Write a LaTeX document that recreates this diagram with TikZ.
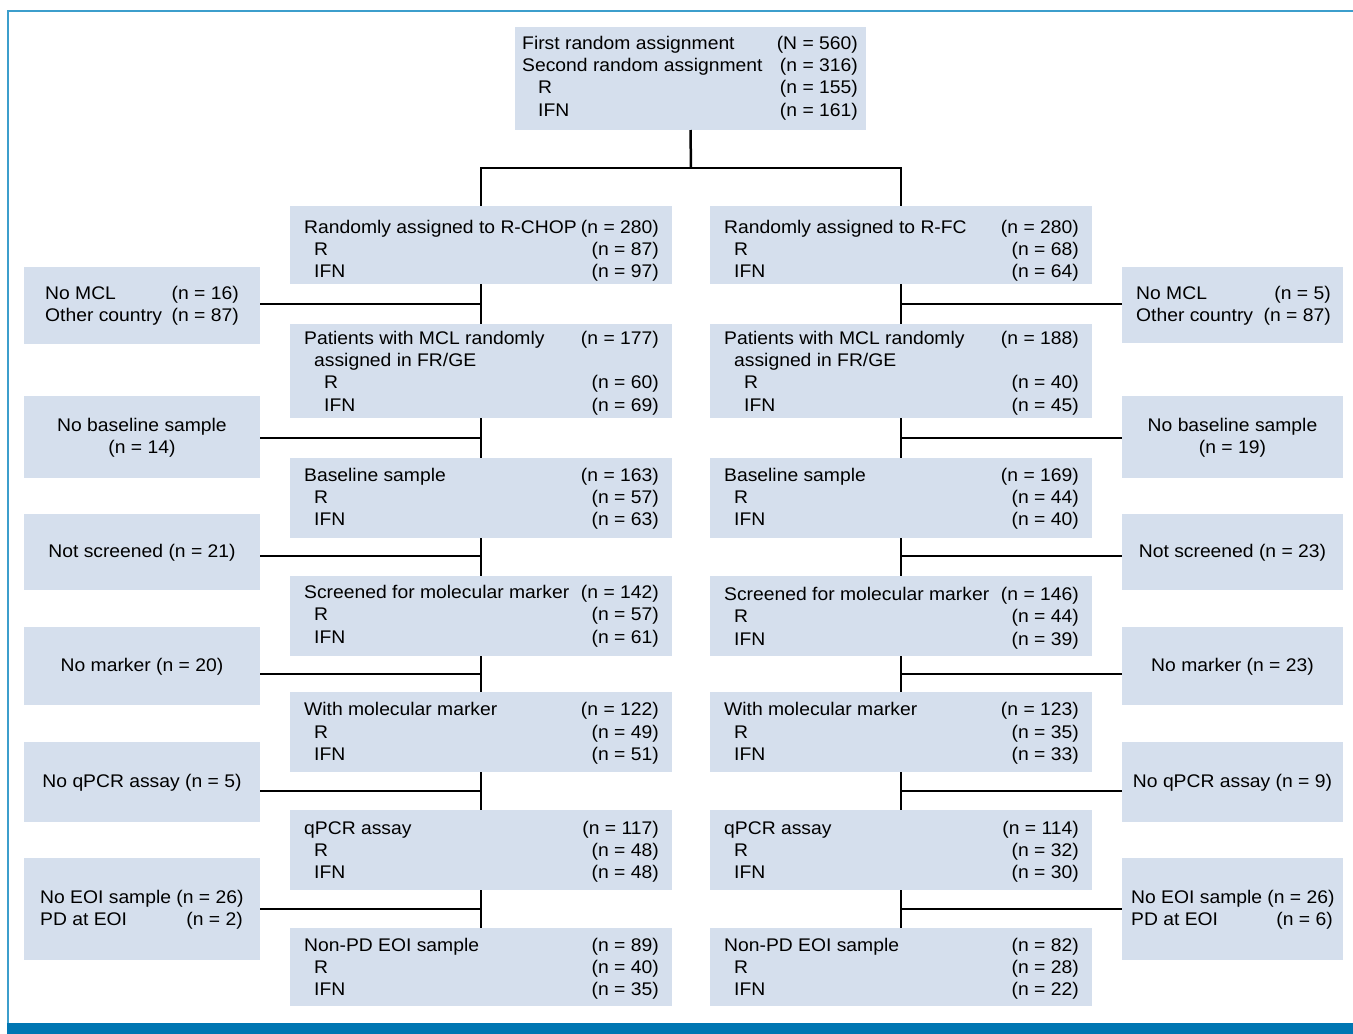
\documentclass[tikz,border=0pt]{standalone}
\usepackage{fontspec}
\setmainfont{Liberation Sans}[FakeStretch=1.055]
\definecolor{boxfill}{RGB}{213,223,237}
\definecolor{frameblue}{RGB}{60,158,204}
\definecolor{barblue}{RGB}{0,118,178}
\newcommand{\txL}[4]{\node[txt,anchor=base west] (#1) at (#2,#3) {#4};}
\newcommand{\txR}[4]{\node[txt,anchor=base east] (#1) at (#2,#3) {#4};}
\newcommand{\txC}[4]{\node[txt,anchor=base] (#1) at (#2,#3) {#4};}
\newcommand{\bx}[5]{\node[box,minimum width=#4pt,minimum height=#5pt] (#1) at (#2,#3) {};}
\begin{document}
\begin{tikzpicture}[x=1pt,y=-1pt,
  box/.style={fill=boxfill,draw=none,inner sep=0pt,outer sep=0pt,anchor=north west},
  txt/.style={inner sep=0pt,font=\fontsize{18.3}{22}\selectfont},
  conn/.style={line width=2.5pt,draw=black}]
\useasboundingbox (0,0) rectangle (1353,1034);
% frame
\draw[frameblue,line width=2pt] (8,1023) -- (8,11) -- (1353,11);
\fill[barblue] (7,1023) rectangle (1353,1034);
% top box
\bx{T}{515}{27}{351}{103}
\txL{t1}{522}{49.5}{First random assignment}\txR{t1n}{858}{49.5}{(N = 560)}
\txL{t2}{522}{71.5}{Second random assignment}\txR{t2n}{858}{71.5}{(n = 316)}
\txL{t3}{538}{93.5}{R}\txR{t3n}{858}{93.5}{(n = 155)}
\txL{t4}{538}{116.5}{IFN}\txR{t4n}{858}{116.5}{(n = 161)}
% left column
\bx{L1}{290}{206}{382}{78}
\txL{l1a}{304}{233.5}{Randomly assigned to R-CHOP}\txR{l1an}{659}{233.5}{(n = 280)}
\txL{l1b}{314}{255.5}{R}\txR{l1bn}{659}{255.5}{(n = 87)}
\txL{l1c}{314}{277.5}{IFN}\txR{l1cn}{659}{277.5}{(n = 97)}
\bx{L2}{290}{324}{382}{94}
\txL{l2a}{304}{344.5}{Patients with MCL randomly}\txR{l2an}{659}{344.5}{(n = 177)}
\txL{l2b}{314}{366.5}{assigned in FR/GE}
\txL{l2c}{324}{388.5}{R}\txR{l2cn}{659}{388.5}{(n = 60)}
\txL{l2d}{324}{411.5}{IFN}\txR{l2dn}{659}{411.5}{(n = 69)}
\bx{L3}{290}{458}{382}{80}
\txL{l3a}{304}{481.5}{Baseline sample}\txR{l3an}{659}{481.5}{(n = 163)}
\txL{l3b}{314}{503.5}{R}\txR{l3bn}{659}{503.5}{(n = 57)}
\txL{l3c}{314}{525.5}{IFN}\txR{l3cn}{659}{525.5}{(n = 63)}
\bx{L4}{290}{576}{382}{80}
\txL{l4a}{304}{598.5}{Screened for molecular marker}\txR{l4an}{659}{598.5}{(n = 142)}
\txL{l4b}{314}{620.5}{R}\txR{l4bn}{659}{620.5}{(n = 57)}
\txL{l4c}{314}{643.5}{IFN}\txR{l4cn}{659}{643.5}{(n = 61)}
\bx{L5}{290}{692}{382}{80}
\txL{l5a}{304}{715.5}{With molecular marker}\txR{l5an}{659}{715.5}{(n = 122)}
\txL{l5b}{314}{738.5}{R}\txR{l5bn}{659}{738.5}{(n = 49)}
\txL{l5c}{314}{760.5}{IFN}\txR{l5cn}{659}{760.5}{(n = 51)}
\bx{L6}{290}{810}{382}{80}
\txL{l6a}{304}{834.5}{qPCR assay}\txR{l6an}{659}{834.5}{(n = 117)}
\txL{l6b}{314}{856.5}{R}\txR{l6bn}{659}{856.5}{(n = 48)}
\txL{l6c}{314}{878.5}{IFN}\txR{l6cn}{659}{878.5}{(n = 48)}
\bx{L7}{290}{928}{382}{78}
\txL{l7a}{304}{951.5}{Non-PD EOI sample}\txR{l7an}{659}{951.5}{(n = 89)}
\txL{l7b}{314}{973.5}{R}\txR{l7bn}{659}{973.5}{(n = 40)}
\txL{l7c}{314}{995.5}{IFN}\txR{l7cn}{659}{995.5}{(n = 35)}
% right column
\bx{R1}{710}{206}{382}{78}
\txL{r1a}{724}{233.5}{Randomly assigned to R-FC}\txR{r1an}{1079}{233.5}{(n = 280)}
\txL{r1b}{734}{255.5}{R}\txR{r1bn}{1079}{255.5}{(n = 68)}
\txL{r1c}{734}{277.5}{IFN}\txR{r1cn}{1079}{277.5}{(n = 64)}
\bx{R2}{710}{324}{382}{94}
\txL{r2a}{724}{344.5}{Patients with MCL randomly}\txR{r2an}{1079}{344.5}{(n = 188)}
\txL{r2b}{734}{366.5}{assigned in FR/GE}
\txL{r2c}{744}{388.5}{R}\txR{r2cn}{1079}{388.5}{(n = 40)}
\txL{r2d}{744}{411.5}{IFN}\txR{r2dn}{1079}{411.5}{(n = 45)}
\bx{R3}{710}{458}{382}{80}
\txL{r3a}{724}{481.5}{Baseline sample}\txR{r3an}{1079}{481.5}{(n = 169)}
\txL{r3b}{734}{503.5}{R}\txR{r3bn}{1079}{503.5}{(n = 44)}
\txL{r3c}{734}{525.5}{IFN}\txR{r3cn}{1079}{525.5}{(n = 40)}
\bx{R4}{710}{576}{382}{80}
\txL{r4a}{724}{600.5}{Screened for molecular marker}\txR{r4an}{1079}{600.5}{(n = 146)}
\txL{r4b}{734}{622.5}{R}\txR{r4bn}{1079}{622.5}{(n = 44)}
\txL{r4c}{734}{645.5}{IFN}\txR{r4cn}{1079}{645.5}{(n = 39)}
\bx{R5}{710}{692}{382}{80}
\txL{r5a}{724}{715.5}{With molecular marker}\txR{r5an}{1079}{715.5}{(n = 123)}
\txL{r5b}{734}{738.5}{R}\txR{r5bn}{1079}{738.5}{(n = 35)}
\txL{r5c}{734}{760.5}{IFN}\txR{r5cn}{1079}{760.5}{(n = 33)}
\bx{R6}{710}{810}{382}{80}
\txL{r6a}{724}{834.5}{qPCR assay}\txR{r6an}{1079}{834.5}{(n = 114)}
\txL{r6b}{734}{856.5}{R}\txR{r6bn}{1079}{856.5}{(n = 32)}
\txL{r6c}{734}{878.5}{IFN}\txR{r6cn}{1079}{878.5}{(n = 30)}
\bx{R7}{710}{928}{382}{78}
\txL{r7a}{724}{951.5}{Non-PD EOI sample}\txR{r7an}{1079}{951.5}{(n = 82)}
\txL{r7b}{734}{973.5}{R}\txR{r7bn}{1079}{973.5}{(n = 28)}
\txL{r7c}{734}{995.5}{IFN}\txR{r7cn}{1079}{995.5}{(n = 22)}
% left exclusions
\bx{E1}{24}{267}{236}{77}
\txL{e1a}{45}{299.5}{No MCL}\txR{e1an}{239}{299.5}{(n = 16)}
\txL{e1b}{45}{321.5}{Other country}\txR{e1bn}{239}{321.5}{(n = 87)}
\bx{E2}{24}{396}{236}{82}
\txC{e2a}{142}{431.5}{No baseline sample}
\txC{e2b}{142}{453.5}{(n = 14)}
\bx{E3}{24}{514}{236}{76}
\txC{e3a}{142}{557.5}{Not screened (n = 21)}
\bx{E4}{24}{627}{236}{78}
\txC{e4a}{142}{671.5}{No marker (n = 20)}
\bx{E5}{24}{742}{236}{80}
\txC{e5a}{142}{787.5}{No qPCR assay (n = 5)}
\bx{E6}{24}{858}{236}{102}
\txL{e6a}{40}{903.5}{No EOI sample (n = 26)}
\txL{e6b}{40}{925.5}{PD at EOI}\txR{e6bn}{243}{925.5}{(n = 2)}
% right exclusions
\bx{F1}{1122}{267}{221}{76}
\txL{f1a}{1136}{299.5}{No MCL}\txR{f1an}{1331}{299.5}{(n = 5)}
\txL{f1b}{1136}{321.5}{Other country}\txR{f1bn}{1331}{321.5}{(n = 87)}
\bx{F2}{1122}{396}{221}{82}
\txC{f2a}{1232.5}{431.5}{No baseline sample}
\txC{f2b}{1232.5}{453.5}{(n = 19)}
\bx{F3}{1122}{514}{221}{76}
\txC{f3a}{1232.5}{557.5}{Not screened (n = 23)}
\bx{F4}{1122}{627}{221}{78}
\txC{f4a}{1232.5}{671.5}{No marker (n = 23)}
\bx{F5}{1122}{742}{221}{80}
\txC{f5a}{1232.5}{787.5}{No qPCR assay (n = 9)}
\bx{F6}{1122}{858}{221}{102}
\txL{f6a}{1131}{903.5}{No EOI sample (n = 26)}
\txL{f6b}{1131}{925.5}{PD at EOI}\txR{f6bn}{1333}{925.5}{(n = 6)}
% connectors
\coordinate (split) at (691,168);
\draw[conn] (T.south) -- (split);
\draw[conn] (L1.north) -- (L1.north |- split) -- (R1.north |- split) -- (R1.north);
\foreach \a/\b in {1/2,2/3,3/4,4/5,5/6,6/7}{
  \draw[conn] (L\a.south) -- (L\b.north);
  \draw[conn] (R\a.south) -- (R\b.north);
}
\foreach \i/\yy in {1/304,2/438,3/556,4/674,5/791,6/909}{
  \coordinate (lb\i) at (481,\yy);
  \coordinate (rb\i) at (901,\yy);
  \draw[conn] (lb\i) -- (lb\i -| E\i.east);
  \draw[conn] (rb\i) -- (rb\i -| F\i.west);
}
\end{tikzpicture}
\end{document}
